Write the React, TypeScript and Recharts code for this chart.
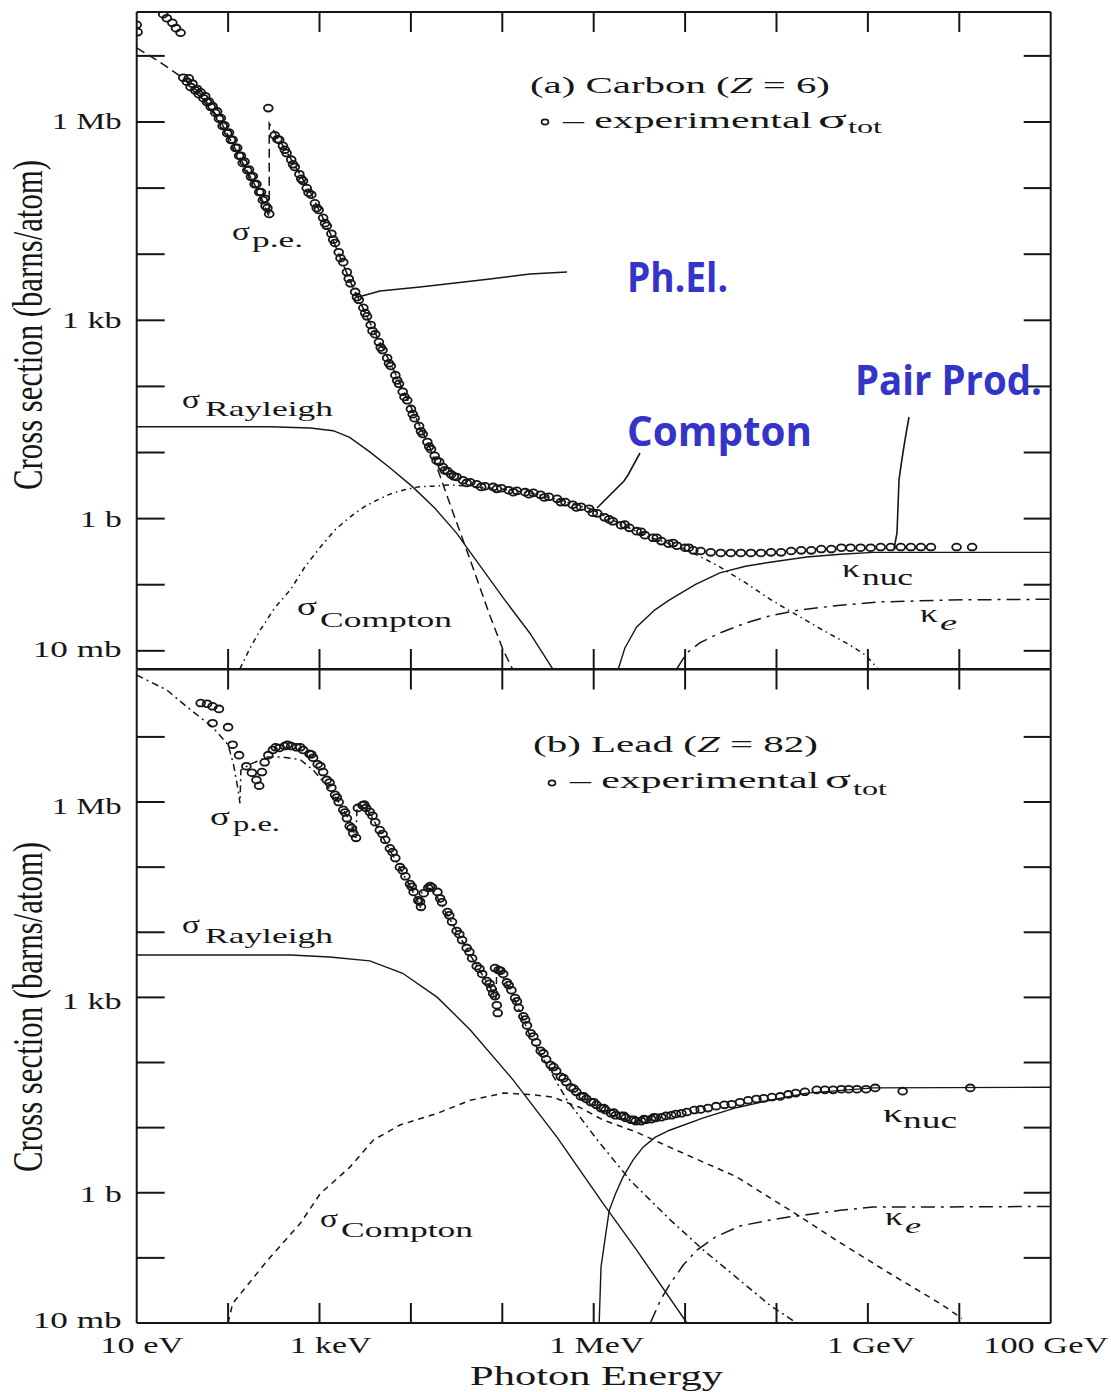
import React from 'react';
import { ComposedChart, Line, Scatter, XAxis, YAxis } from 'recharts';

// Every point is [log10(E / eV), log10(sigma / barn)].
type Pt = [number, number];

const energyTicks = [1, 2, 3, 4, 5, 6, 7, 8, 9, 10, 11];
const energyLabels: Record<string, { text: string; w: number; dx: number }> = {
  '1': { text: '10 eV', w: 83, dx: 5 },
  '3': { text: '1 keV', w: 82, dx: 11 },
  '6': { text: '1 MeV', w: 95, dx: 3 },
  '9': { text: '1 GeV', w: 88, dx: 3 },
  '11': { text: '100 GeV', w: 125, dx: -5 },
};
const sigmaTicks = [-2, -1, 0, 1, 2, 3, 4, 5, 6, 7];
const sigmaLabels: Record<string, { text: string; w: number }> = {
  '6': { text: '1 Mb', w: 70 },
  '3': { text: '1 kb', w: 60 },
  '0': { text: '1 b', w: 42 },
  '-2': { text: '10 mb', w: 89 },
};

// ---------- (a) Carbon, Z = 6 ----------
const carbonMeasured: Pt[] = [
  [1.0, 7.47], [1.01, 7.36], [1.29, 7.63], [1.33, 7.57], [1.39, 7.5], [1.43, 7.42], [1.48, 7.35],
  [1.51, 6.67], [1.55, 6.61], [1.59, 6.53], [1.64, 6.48], [1.68, 6.42], [1.73, 6.36], [1.77, 6.3],
  [1.81, 6.23], [1.86, 6.14], [1.9, 6.05], [1.94, 5.94], [1.99, 5.83], [2.03, 5.73], [2.08, 5.61],
  [2.12, 5.49], [2.16, 5.38], [2.21, 5.27], [2.25, 5.17], [2.29, 5.06], [2.34, 4.94], [2.38, 4.82],
  [2.41, 4.73], [2.45, 4.61],
  [2.44, 6.21],
  [2.51, 5.8], [2.56, 5.73], [2.6, 5.64], [2.64, 5.53], [2.69, 5.43], [2.73, 5.32], [2.78, 5.21],
  [2.82, 5.11], [2.86, 5.0], [2.91, 4.9], [2.95, 4.77], [2.99, 4.67], [3.04, 4.55], [3.08, 4.43],
  [3.13, 4.31], [3.17, 4.17], [3.21, 4.03], [3.26, 3.88], [3.3, 3.73], [3.34, 3.56], [3.39, 3.43],
  [3.43, 3.31], [3.48, 3.19], [3.52, 3.06], [3.56, 2.93], [3.61, 2.79], [3.65, 2.67], [3.69, 2.55],
  [3.74, 2.43], [3.78, 2.31], [3.83, 2.17], [3.87, 2.04], [3.91, 1.92], [3.96, 1.79], [4.0, 1.66],
  [4.04, 1.52], [4.09, 1.4], [4.13, 1.28], [4.18, 1.16], [4.22, 1.05], [4.26, 0.95], [4.31, 0.86],
  [4.35, 0.78], [4.4, 0.72], [4.44, 0.67], [4.5, 0.63], [4.57, 0.58], [4.65, 0.55], [4.72, 0.52],
  [4.81, 0.49], [4.9, 0.48], [4.99, 0.46], [5.07, 0.43], [5.16, 0.42], [5.25, 0.4], [5.34, 0.39],
  [5.42, 0.36], [5.51, 0.33], [5.6, 0.3], [5.69, 0.25], [5.77, 0.21], [5.86, 0.18], [5.95, 0.15],
  [6.04, 0.08], [6.12, 0.02], [6.21, -0.04], [6.3, -0.1], [6.39, -0.14], [6.47, -0.19], [6.56, -0.25],
  [6.65, -0.29], [6.74, -0.34], [6.82, -0.38], [6.91, -0.41], [7.0, -0.44], [7.09, -0.48], [7.17, -0.49],
  [7.28, -0.51], [7.39, -0.52], [7.5, -0.52], [7.61, -0.52], [7.72, -0.52], [7.83, -0.52], [7.94, -0.51],
  [8.05, -0.51], [8.16, -0.49], [8.27, -0.48], [8.38, -0.48], [8.49, -0.46], [8.6, -0.46], [8.71, -0.44],
  [8.81, -0.44], [8.92, -0.44], [9.03, -0.44], [9.14, -0.43], [9.25, -0.43], [9.36, -0.43], [9.47, -0.43],
  [9.58, -0.43], [9.69, -0.43], [9.97, -0.43], [10.14, -0.43],
];
// second row of measurements along the low side of the carbon band
const carbonMeasuredLow: Pt[] = [
  [1.57, 6.66], [1.61, 6.58], [1.66, 6.5], [1.7, 6.45], [1.75, 6.39], [1.79, 6.31], [1.83, 6.24],
  [1.88, 6.16], [1.92, 6.06], [1.96, 5.95], [2.01, 5.84], [2.05, 5.73], [2.1, 5.61], [2.14, 5.49],
  [2.18, 5.4], [2.23, 5.28], [2.27, 5.18], [2.31, 5.06], [2.36, 4.94], [2.4, 4.84], [2.43, 4.7],
  [2.54, 5.74], [2.62, 5.58], [2.71, 5.36], [2.8, 5.14], [2.88, 4.93], [2.97, 4.7], [3.06, 4.47],
  [3.15, 4.22], [3.23, 3.94], [3.32, 3.63], [3.41, 3.35], [3.5, 3.11], [3.58, 2.84], [3.67, 2.59],
  [3.76, 2.35], [3.85, 2.09], [3.93, 1.84], [4.02, 1.58], [4.11, 1.32], [4.2, 1.09], [4.28, 0.88],
  [4.37, 0.73], [4.47, 0.64], [4.61, 0.54], [4.77, 0.48], [4.94, 0.45], [5.12, 0.4], [5.29, 0.37],
  [5.46, 0.32], [5.64, 0.25], [5.81, 0.17], [5.99, 0.09], [6.17, -0.01], [6.34, -0.09], [6.52, -0.2],
  [6.69, -0.29], [6.87, -0.37], [7.04, -0.44],
];
const carbonPhotoelectric: Pt[] = [
  [1.0, 7.12], [1.25, 6.91], [1.47, 6.7], [1.69, 6.44], [1.91, 6.03], [2.13, 5.46], [2.35, 4.9],
  [2.45, 4.56], [2.45, 5.98], [2.68, 5.46], [2.9, 4.94], [3.11, 4.34], [3.33, 3.61], [3.55, 2.97],
  [3.77, 2.37], [3.99, 1.72], [4.21, 1.07], [4.43, 0.21], [4.65, -0.63], [4.87, -1.49], [5.01, -1.99],
  [5.11, -2.27],
];
const carbonRayleigh: Pt[] = [
  [1.0, 1.39], [2.46, 1.39], [2.9, 1.37], [3.15, 1.33], [3.33, 1.23], [3.55, 1.01], [3.77, 0.77],
  [4.02, 0.48], [4.26, 0.16], [4.5, -0.22], [4.65, -0.51], [4.87, -0.93], [5.01, -1.2], [5.3, -1.73],
  [5.55, -2.27],
];
const carbonCompton: Pt[] = [
  [2.13, -2.27], [2.24, -1.96], [2.35, -1.69], [2.51, -1.35], [2.68, -1.08], [2.84, -0.73],
  [3.01, -0.43], [3.17, -0.17], [3.33, 0.02], [3.5, 0.19], [3.63, 0.28], [3.77, 0.37], [3.91, 0.43],
  [4.08, 0.48], [4.24, 0.49], [4.43, 0.51], [4.65, 0.49], [4.98, 0.45], [5.3, 0.39], [5.63, 0.28],
  [5.96, 0.15], [6.29, -0.08], [6.61, -0.28], [6.94, -0.43], [7.16, -0.57], [7.38, -0.73],
  [7.66, -0.97], [7.93, -1.22], [8.2, -1.44], [8.51, -1.69], [8.8, -1.91], [8.97, -2.06], [9.11, -2.27],
];
const carbonNuclearPair: Pt[] = [
  [6.27, -2.27], [6.34, -1.96], [6.47, -1.64], [6.67, -1.38], [6.83, -1.23], [7.11, -1.0],
  [7.38, -0.82], [7.66, -0.72], [7.93, -0.66], [8.33, -0.58], [8.7, -0.54], [9.06, -0.51], [11.0, -0.51],
];
const carbonElectronPair: Pt[] = [
  [6.91, -2.27], [7.02, -2.03], [7.16, -1.88], [7.38, -1.73], [7.66, -1.58], [7.93, -1.47],
  [8.26, -1.38], [8.7, -1.31], [9.13, -1.26], [9.43, -1.25], [9.9, -1.23], [11.0, -1.22],
];

// ---------- (b) Lead, Z = 82 ----------
const leadMeasured: Pt[] = [
  [1.7, 7.52], [1.77, 7.51], [1.83, 7.47], [1.9, 7.43], [1.83, 7.21], [2.0, 7.15], [2.05, 6.88],
  [2.12, 6.72], [2.2, 6.55], [2.26, 6.45], [2.31, 6.34], [2.34, 6.25],
  [2.37, 6.46], [2.4, 6.61], [2.44, 6.72], [2.49, 6.8], [2.56, 6.83], [2.62, 6.86], [2.69, 6.86],
  [2.75, 6.84], [2.82, 6.8], [2.89, 6.74], [2.93, 6.68], [2.98, 6.58], [3.04, 6.46], [3.08, 6.34],
  [3.13, 6.22], [3.17, 6.11], [3.21, 6.0], [3.26, 5.88], [3.3, 5.75], [3.33, 5.63], [3.37, 5.52],
  [3.4, 5.45],
  [3.42, 5.91], [3.47, 5.95], [3.51, 5.91], [3.55, 5.85], [3.61, 5.69], [3.66, 5.57], [3.72, 5.42],
  [3.77, 5.29], [3.83, 5.14], [3.88, 5.0], [3.94, 4.86], [3.99, 4.74], [4.03, 4.62], [4.08, 4.49],
  [4.11, 4.39],
  [4.14, 4.6], [4.19, 4.68], [4.23, 4.69], [4.29, 4.62], [4.34, 4.46], [4.4, 4.31], [4.45, 4.16],
  [4.5, 4.02], [4.56, 3.88], [4.61, 3.76], [4.67, 3.6], [4.72, 3.48], [4.78, 3.36], [4.83, 3.25],
  [4.88, 3.14], [4.92, 3.02], [4.94, 2.88], [4.95, 2.76],
  [4.92, 3.45], [4.96, 3.42], [5.01, 3.36], [5.05, 3.23], [5.1, 3.11], [5.14, 2.99], [5.18, 2.84],
  [5.23, 2.71], [5.27, 2.57], [5.31, 2.45], [5.37, 2.31], [5.42, 2.18], [5.48, 2.05], [5.53, 1.96],
  [5.59, 1.87], [5.64, 1.78], [5.7, 1.7], [5.75, 1.62], [5.81, 1.55], [5.86, 1.48], [5.92, 1.44],
  [5.97, 1.39], [6.03, 1.35], [6.08, 1.3], [6.13, 1.27], [6.19, 1.22], [6.24, 1.19], [6.3, 1.18],
  [6.35, 1.15], [6.41, 1.12], [6.46, 1.1], [6.52, 1.1], [6.57, 1.12], [6.63, 1.13], [6.68, 1.15],
  [6.74, 1.16], [6.79, 1.18], [6.85, 1.19], [6.9, 1.21], [6.96, 1.22], [7.02, 1.24], [7.1, 1.27],
  [7.17, 1.28], [7.25, 1.3], [7.34, 1.33], [7.43, 1.35], [7.51, 1.36], [7.6, 1.39], [7.69, 1.42],
  [7.78, 1.44], [7.86, 1.45], [7.95, 1.47], [8.04, 1.48], [8.13, 1.51], [8.21, 1.53], [8.31, 1.55],
  [8.44, 1.58], [8.53, 1.58], [8.62, 1.58], [8.71, 1.59], [8.79, 1.59], [8.88, 1.59], [8.98, 1.59],
  [9.08, 1.61], [9.38, 1.56], [10.12, 1.61],
];
// second row of measurements along the low side of the lead band
const leadMeasuredLow: Pt[] = [
  [2.52, 6.84], [2.65, 6.88], [2.79, 6.84], [2.91, 6.73], [3.01, 6.55], [3.11, 6.3], [3.19, 6.07],
  [3.28, 5.84], [3.35, 5.6], [3.49, 5.96], [3.58, 5.79], [3.69, 5.51], [3.8, 5.23], [3.91, 4.95],
  [4.01, 4.7], [4.1, 4.47], [4.21, 4.71], [4.32, 4.52], [4.42, 4.26], [4.53, 3.97], [4.64, 3.7],
  [4.75, 3.44], [4.86, 3.21], [4.9, 3.06], [4.98, 3.41], [5.07, 3.19], [5.16, 2.94], [5.25, 2.66],
  [5.34, 2.4], [5.45, 2.14], [5.56, 1.93], [5.67, 1.76], [5.78, 1.6], [5.89, 1.48], [6.0, 1.39],
  [6.11, 1.3], [6.22, 1.23], [6.33, 1.18], [6.44, 1.12], [6.55, 1.13], [6.66, 1.16],
];
const leadPhotoelectric: Pt[] = [
  [1.0, 7.95], [1.33, 7.72], [1.55, 7.46], [1.83, 7.15], [2.0, 6.88], [2.06, 6.57], [2.11, 6.18],
  [2.13, 5.98], [2.14, 6.49], [2.24, 6.58], [2.43, 6.69], [2.6, 6.69], [2.79, 6.65], [2.93, 6.49],
  [3.15, 6.14], [3.33, 5.72], [3.4, 5.45], [3.41, 5.91], [3.47, 5.94], [3.55, 5.83], [3.77, 5.26],
  [3.99, 4.71], [4.11, 4.37], [4.12, 4.65], [4.23, 4.68], [4.43, 4.19], [4.65, 3.65], [4.87, 3.14],
  [4.93, 2.96], [4.94, 3.45], [5.09, 3.11], [5.3, 2.42], [5.52, 1.88], [5.71, 1.42], [6.04, 0.81],
  [6.4, 0.19], [6.84, -0.42], [7.2, -0.88], [7.57, -1.31], [7.93, -1.73], [8.22, -2.0],
];
const leadRayleigh: Pt[] = [
  [1.0, 3.65], [2.68, 3.65], [3.11, 3.62], [3.55, 3.56], [3.91, 3.37], [4.29, 3.0], [4.65, 2.5],
  [5.12, 1.73], [5.6, 0.85], [6.1, -0.16], [6.47, -0.88], [7.02, -2.0],
];
const leadCompton: Pt[] = [
  [2.0, -2.0], [2.05, -1.7], [2.43, -1.04], [2.79, -0.47], [3.01, -0.01], [3.33, 0.39], [3.59, 0.81],
  [3.88, 1.04], [4.29, 1.22], [4.65, 1.42], [5.01, 1.53], [5.3, 1.51], [5.55, 1.47], [5.85, 1.31],
  [6.1, 1.12], [6.47, 0.93], [6.83, 0.7], [7.2, 0.47], [7.57, 0.24], [7.93, -0.08], [8.15, -0.27],
  [8.7, -0.77], [9.24, -1.24], [9.79, -1.7], [10.03, -1.93],
];
const leadNuclearPair: Pt[] = [
  [6.06, -2.0], [6.08, -1.14], [6.13, -0.65], [6.17, -0.27], [6.24, -0.01], [6.32, 0.24], [6.43, 0.5],
  [6.54, 0.7], [6.67, 0.85], [6.83, 0.96], [7.2, 1.15], [7.57, 1.31], [7.93, 1.42], [8.33, 1.53],
  [9.06, 1.61], [11.0, 1.62],
];
const leadElectronPair: Pt[] = [
  [6.62, -2.0], [6.73, -1.65], [6.84, -1.39], [6.98, -1.11], [7.13, -0.88], [7.33, -0.68], [7.6, -0.51],
  [7.93, -0.42], [8.15, -0.37], [8.7, -0.27], [9.06, -0.22], [9.54, -0.22], [11.0, -0.21],
];

// ---------- drawing ----------
const W = 1111;
const INK = '#161616';
const SERIF = "'Liberation Serif', 'DejaVu Serif', 'Times New Roman', serif";
const BLUE = '#3434c8';
const SX = 1.4; // glyphs are drawn wide, as in the printed figure

const rows = (pts: Pt[]) => pts.map(([x, y]) => ({ x, y }));

function Wide(props: {
  x: number; y: number; w: number; size: number; anchor?: 'start' | 'middle' | 'end';
  italic?: boolean; children: React.ReactNode;
}) {
  const { x, y, w, size, anchor = 'start', italic = false, children } = props;
  return (
    <text
      transform={`translate(${x},${y}) scale(${SX},1)`}
      fontFamily={SERIF}
      fontSize={size}
      fontStyle={italic ? 'italic' : 'normal'}
      textAnchor={anchor}
      textLength={w / SX}
      lengthAdjust="spacingAndGlyphs"
      fill={INK}
    >
      {children}
    </text>
  );
}

const oval = (p: any) =>
  p.cx == null ? <g /> : (
    <ellipse cx={p.cx} cy={p.cy} rx={4.4} ry={3.4} fill="none" stroke={INK} strokeWidth={1.8} />
  );

type Curve = { pts: Pt[]; dash?: string; width?: number };

// axis boxes: ticks are drawn by hand, so the boxes only need a little room
const AX_W = 30;
const AX_H_BOTTOM = 30;
const AX_H_TOP = 10;

function Panel(props: {
  top: number; height: number; plotTop: number; plotBottom: number;
  yDomain: [number, number]; measured: Pt[][]; curves: Curve[]; energyText: boolean;
  labelDy: Record<string, number>;
}) {
  const { top, height, plotTop, plotBottom, yDomain, measured, curves, energyText, labelDy } = props;
  const margin = {
    top: plotTop - top - AX_H_TOP,
    bottom: top + height - plotBottom - AX_H_BOTTOM,
    left: 136.7 - AX_W,
    right: W - 1050.7 - AX_W,
  };
  const onEdgeY = (v: number) => v <= yDomain[0] + 0.01 || v >= yDomain[1] - 0.01;

  const xBottomTick = (p: any) => {
    const v = p.payload.value;
    const lab = energyText ? energyLabels[String(v)] : undefined;
    return (
      <g>
        {v > 1 && v < 11 && (
          <line x1={p.x} y1={p.y} x2={p.x} y2={p.y - 20} stroke={INK} strokeWidth={2} />
        )}
        {lab && (
          <Wide x={p.x + lab.dx} y={p.y + 30} w={lab.w} size={22.7} anchor="middle">
            {lab.text}
          </Wide>
        )}
      </g>
    );
  };
  const xTopTick = (p: any) => {
    const v = p.payload.value;
    return (
      <g>
        {v > 1 && v < 11 && (
          <line x1={p.x} y1={p.y} x2={p.x} y2={p.y + 20} stroke={INK} strokeWidth={2} />
        )}
      </g>
    );
  };
  const yLeftTick = (p: any) => {
    const v = p.payload.value;
    const lab = sigmaLabels[String(v)];
    return (
      <g>
        {!onEdgeY(v) && (
          <line x1={p.x} y1={p.y} x2={p.x + 28} y2={p.y} stroke={INK} strokeWidth={2} />
        )}
        {lab && (
          <Wide x={p.x - 15} y={p.y + (labelDy[String(v)] ?? 8)} w={lab.w} size={22.7} anchor="end">
            {lab.text}
          </Wide>
        )}
      </g>
    );
  };
  const yRightTick = (p: any) => {
    const v = p.payload.value;
    return (
      <g>
        {!onEdgeY(v) && (
          <line x1={p.x} y1={p.y} x2={p.x - 27} y2={p.y} stroke={INK} strokeWidth={2} />
        )}
      </g>
    );
  };
  const axisLine = { stroke: INK, strokeWidth: 2 };
  const common = {
    type: 'number' as const,
    allowDataOverflow: true,
    interval: 0 as const,
    tickSize: 0,
    tickMargin: 0,
    tickLine: false,
    axisLine,
  };

  return (
    <div style={{ position: 'absolute', left: 0, top, width: W, height }}>
      <ComposedChart width={W} height={height} margin={margin}>
        <XAxis {...common} xAxisId="b" orientation="bottom" dataKey="x" domain={[1, 11]}
          ticks={energyTicks} height={AX_H_BOTTOM} tick={xBottomTick} />
        <XAxis {...common} xAxisId="t" orientation="top" dataKey="x" domain={[1, 11]}
          ticks={energyTicks} height={AX_H_TOP} tick={xTopTick} />
        <YAxis {...common} yAxisId="l" orientation="left" dataKey="y" domain={yDomain}
          ticks={sigmaTicks} width={AX_W} tick={yLeftTick} />
        <YAxis {...common} yAxisId="r" orientation="right" dataKey="y" domain={yDomain}
          ticks={sigmaTicks} width={AX_W} tick={yRightTick} />
        {curves.map((c, i) => (
          <Line
            key={i}
            xAxisId="b"
            yAxisId="l"
            data={rows(c.pts)}
            dataKey="y"
            type="linear"
            stroke={INK}
            strokeWidth={c.width ?? 1.5}
            strokeDasharray={c.dash}
            dot={false}
            activeDot={false}
            isAnimationActive={false}
          />
        ))}
        {measured.map((m, i) => (
          <Scatter key={`m${i}`} xAxisId="b" yAxisId="l" data={rows(m)} dataKey="y" shape={oval}
            isAnimationActive={false} />
        ))}
      </ComposedChart>
    </div>
  );
}

function Sub(props: { x: number; y: number; w: number; size: number; italic?: boolean; children: React.ReactNode }) {
  return <Wide {...props}>{props.children}</Wide>;
}

function Annotations() {
  const blue = (x: number, y: number, w: number, s: string) => (
    <text x={x} y={y} fontFamily="'Open Sans', 'DejaVu Sans', sans-serif" fontWeight={700}
      fontSize={41} fill={BLUE} textLength={w} lengthAdjust="spacingAndGlyphs">{s}</text>
  );
  const yLabel = (baseY: number) => (
    <text transform={`translate(41.5,${baseY}) scale(${SX},1) rotate(-90)`} fontFamily={SERIF}
      fontSize={30} fill={INK} textLength={330} lengthAdjust="spacingAndGlyphs">
      Cross section (barns/atom)
    </text>
  );
  return (
    <svg width={W} height={1392} style={{ position: 'absolute', left: 0, top: 0, pointerEvents: 'none' }}>
      {yLabel(490)}
      {yLabel(1172)}

      {/* panel (a) */}
      <Wide x={530} y={93} w={300} size={24}>
        (a) Carbon (<tspan fontStyle="italic">Z</tspan> = 6)
      </Wide>
      <ellipse cx={545} cy={122} rx={3.5} ry={2.6} fill="none" stroke={INK} strokeWidth={1.6} />
      <Wide x={563} y={128} w={249} size={23}>– experimental</Wide>
      <Sub x={818} y={128} w={29} size={26}>σ</Sub>
      <Sub x={848} y={133} w={34} size={19}>tot</Sub>

      <Sub x={232} y={240} w={18} size={26}>σ</Sub>
      <Sub x={252} y={247} w={51} size={20}>p.e.</Sub>
      <Sub x={182} y={408} w={18} size={26}>σ</Sub>
      <Sub x={205} y={416} w={128} size={21}>Rayleigh</Sub>
      <Sub x={297} y={615} w={20} size={26}>σ</Sub>
      <Sub x={320} y={627} w={132} size={21}>Compton</Sub>
      <Sub x={842} y={577} w={18} size={26}>κ</Sub>
      <Sub x={862} y={585} w={51} size={23}>nuc</Sub>
      <Sub x={920} y={622} w={18} size={26}>κ</Sub>
      <Sub x={940} y={630} w={17} size={22} italic>e</Sub>

      {/* panel (b) */}
      <Wide x={533} y={752} w={285} size={24}>
        (b) Lead (<tspan fontStyle="italic">Z</tspan> = 82)
      </Wide>
      <ellipse cx={552} cy={783} rx={3.5} ry={2.6} fill="none" stroke={INK} strokeWidth={1.6} />
      <Wide x={570} y={788} w={249} size={23}>– experimental</Wide>
      <Sub x={825} y={788} w={26} size={26}>σ</Sub>
      <Sub x={853} y={795} w={34} size={19}>tot</Sub>

      <Sub x={210} y={825} w={20} size={26}>σ</Sub>
      <Sub x={233} y={831} w={47} size={20}>p.e.</Sub>
      <Sub x={182} y={933} w={18} size={26}>σ</Sub>
      <Sub x={205} y={943} w={128} size={21}>Rayleigh</Sub>
      <Sub x={320} y={1227} w={18} size={26}>σ</Sub>
      <Sub x={341} y={1237} w={132} size={21}>Compton</Sub>
      <Sub x={883} y={1122} w={20} size={26}>κ</Sub>
      <Sub x={903} y={1128} w={54} size={23}>nuc</Sub>
      <Sub x={885} y={1225} w={18} size={26}>κ</Sub>
      <Sub x={905} y={1233} w={16} size={22} italic>e</Sub>

      <Wide x={596.5} y={1385} w={253} size={27} anchor="middle">Photon Energy</Wide>

      {/* process call-outs */}
      {blue(627, 292, 101, 'Ph.El.')}
      {blue(627, 446, 185, 'Compton')}
      {blue(855, 395, 187, 'Pair Prod.')}
      <path d="M567 272 L530 274 L490 279 L420 287 L380 291 L362 296" fill="none" stroke={INK} strokeWidth={1.6} />
      <path d="M640 453 L628 475 L624 481 L597 508" fill="none" stroke={INK} strokeWidth={1.6} />
      <path d="M909 417 Q903 450 899 480 L897 533 L894 549" fill="none" stroke={INK} strokeWidth={1.6} />
    </svg>
  );
}

export default function App() {
  return (
    <div style={{ position: 'absolute', left: 0, top: 0, width: W, height: 1392, background: '#fff', overflow: 'hidden' }}>
      <Panel
        top={0}
        height={710}
        plotTop={12}
        plotBottom={669}
        yDomain={[-2.275, 7.664]}
        measured={[carbonMeasured, carbonMeasuredLow]}
        energyText={false}
        labelDy={{ '6': 7, '3': 8, '0': 8, '-2': 6 }}
        curves={[
          { pts: carbonPhotoelectric, dash: '9 5' },
          { pts: carbonRayleigh, width: 1.4 },
          { pts: carbonCompton, dash: '5 4 1.5 4' },
          { pts: carbonNuclearPair, width: 1.4 },
          { pts: carbonElectronPair, dash: '14 6 3 6' },
        ]}
      />
      <Panel
        top={630}
        height={762}
        plotTop={669.5}
        plotBottom={1323}
        yDomain={[-2.0, 8.035]}
        measured={[leadMeasured, leadMeasuredLow]}
        energyText={true}
        labelDy={{ '6': 12, '3': 12, '0': 9, '-2': 5 }}
        curves={[
          { pts: leadPhotoelectric, dash: '7 4 2 4' },
          { pts: leadRayleigh, width: 1.4 },
          { pts: leadCompton, dash: '6 5' },
          { pts: leadNuclearPair, width: 1.4 },
          { pts: leadElectronPair, dash: '14 6 3 6' },
        ]}
      />
      <Annotations />
    </div>
  );
}
